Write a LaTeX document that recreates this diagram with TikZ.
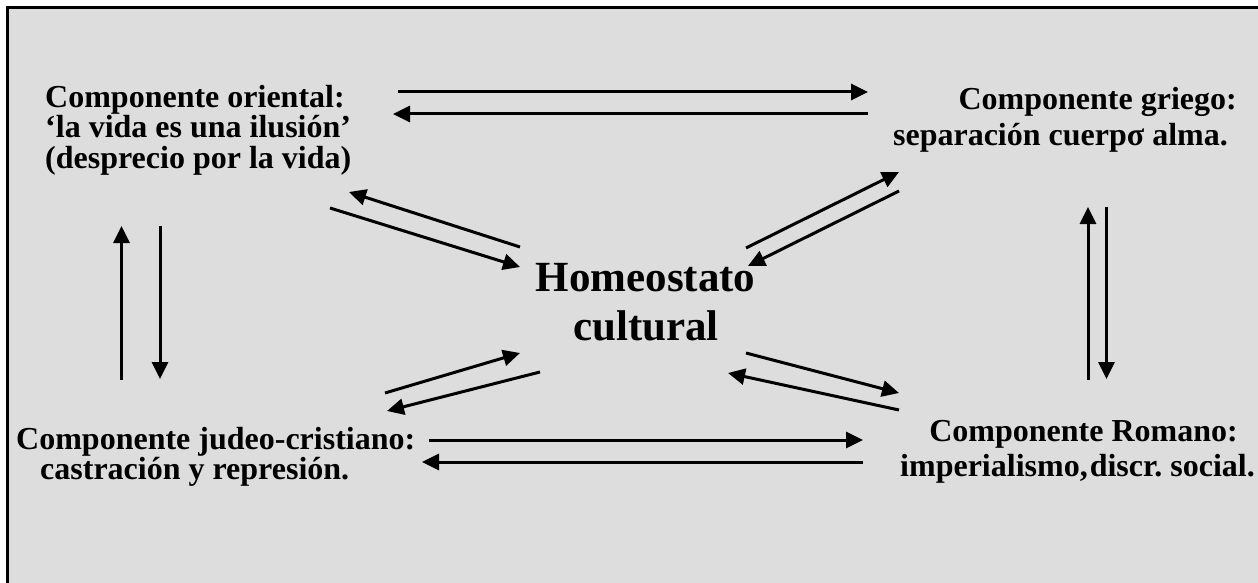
\documentclass[tikz,border=0pt]{standalone}
\usepackage{fontspec}
\setmainfont{Liberation Serif}
\usetikzlibrary{arrows.meta}
\definecolor{bg}{RGB}{221,221,221}
\tikzset{
  lbl/.style={inner sep=0pt, font=\bfseries\fontsize{32}{36}\selectfont},
  ctr/.style={inner sep=0pt, font=\bfseries\fontsize{43}{48}\selectfont},
  arr/.style={line width=3pt, -{Triangle[length=17pt,width=16pt]}},
}
\frenchspacing
\begin{document}
\begin{tikzpicture}[x=1pt,y=-1pt]
\useasboundingbox (0,0) rectangle (1258,583);
\clip (0,0) rectangle (1258,583);
\fill[white] (0,0) rectangle (1258,583);
\fill[bg] (8,8) rectangle (1262,590);
\draw[line width=2.5pt] (7.5,590) -- (7.5,7.5) -- (1262,7.5);

% text blocks
\node[lbl, anchor=base west] (or1) at (45,108) {Componente oriental:};
\node[lbl, anchor=base west] (or2) at (45,138) {‘la vida es una ilusión’};
\node[lbl, anchor=base west] (or3) at (45,168) {(desprecio por la vida)};

\node[lbl, anchor=base east] (gr1) at (1237,110) {Componente griego:};
\node[lbl, anchor=base east] (gr2) at (1228,146) {separación cuerpσ alma.};

\node[lbl, anchor=base west] (ju1) at (16,449) {Componente judeo-cristiano:};
\node[lbl, anchor=base west] (ju2) at (40,479) {castración y represión.};

\node[lbl, anchor=base east] (ro1) at (1238,441) {Componente Romano:};
\node[lbl, anchor=base east] (ro2) at (1255,476) {imperialismo,\hspace{2pt}discr.\ social.};

\node[ctr, anchor=base] (h1) at (645.5,291.5) {Homeostato};
\node[ctr, anchor=base] (h2) at (646,340) {cultural};

% arrow end points
\coordinate (t1a) at (398,92);  \coordinate (t1b) at (868,92);
\coordinate (t2a) at (868,114); \coordinate (t2b) at (393,114);
\coordinate (b1a) at (429,440); \coordinate (b1b) at (863,440);
\coordinate (b2a) at (863,462); \coordinate (b2b) at (422,462);
\coordinate (l1a) at (121.5,380); \coordinate (l1b) at (121.5,226);
\coordinate (l2a) at (160,226);   \coordinate (l2b) at (160,379);
\coordinate (r1a) at (1088,380);  \coordinate (r1b) at (1088,207);
\coordinate (r2a) at (1106.5,207);\coordinate (r2b) at (1106.5,379);
\coordinate (tla) at (520,247); \coordinate (tlb) at (349,192);
\coordinate (tlc) at (330,208); \coordinate (tld) at (520,267);
\coordinate (tra) at (746,248); \coordinate (trb) at (899,172);
\coordinate (trc) at (899,191); \coordinate (trd) at (748,266);
\coordinate (bla) at (385,393); \coordinate (blb) at (520,353);
\coordinate (blc) at (540,372); \coordinate (bld) at (387,411);
\coordinate (bra) at (746,353); \coordinate (brb) at (899,393);
\coordinate (brc) at (899,410); \coordinate (brd) at (728,373);

\draw[arr] (t1a) -- (t1b);
\draw[arr] (t2a) -- (t2b);
\draw[arr] (b1a) -- (b1b);
\draw[arr] (b2a) -- (b2b);
\draw[arr] (l1a) -- (l1b);
\draw[arr] (l2a) -- (l2b);
\draw[arr] (r1a) -- (r1b);
\draw[arr] (r2a) -- (r2b);
\draw[arr] (tla) -- (tlb);
\draw[arr] (tlc) -- (tld);
\draw[arr] (tra) -- (trb);
\draw[arr] (trc) -- (trd);
\draw[arr] (bla) -- (blb);
\draw[arr] (blc) -- (bld);
\draw[arr] (bra) -- (brb);
\draw[arr] (brc) -- (brd);
\end{tikzpicture}
\end{document}
